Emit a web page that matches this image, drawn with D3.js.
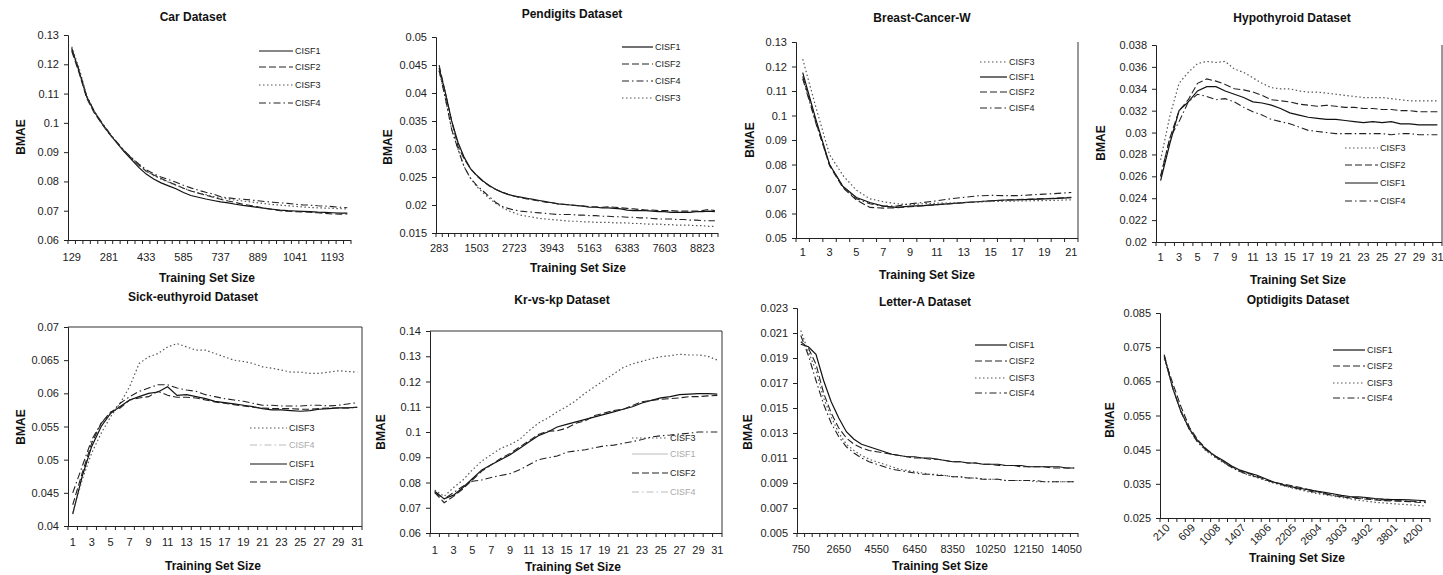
<!DOCTYPE html>
<html>
<head>
<meta charset="utf-8">
<script src="https://cdn.jsdelivr.net/npm/d3@7"></script>
<style>
  body { margin: 0; background: #fff; }
  svg { display: block; font-family: "Liberation Sans", Arial, sans-serif; }
  .axis path, .axis line { stroke: #222; }
  .axis text { fill: #222; font-size: 11px; }
  .title { font-weight: bold; font-size: 12px; fill: #111; }
  .legend text { font-size: 9px; fill: #222; }
</style>
</head>
<body>
<svg id="chart" width="1443" height="575"></svg>
<script>
// ---- data ----
const carLabels = [129, 281, 433, 585, 737, 889, 1041, 1193];
const carTicks = [0.06, 0.07, 0.08, 0.09, 0.1, 0.11, 0.12, 0.13];
const carCISF1 = [.1255,.1175,.109,.104,.1000,.0965,.0933,.0903,.0875,.0848,.0825,.0808,.0795,.0785,.0775,.0762,.0752,.0746,.0740,.0735,.0730,.0727,.0722,.0718,.0715,.0711,.0708,.0705,.0702,.0700,.0699,.0698,.0697,.0695,.0694,.0693,.0692,.0692];
const carCISF2 = [.1245,.117,.1085,.1035,.0998,.0964,.0935,.0905,.0880,.0856,.0835,.0822,.0810,.0798,.0788,.0777,.0767,.0760,.0753,.0746,.0739,.0733,.0728,.0722,.0718,.0713,.0708,.0704,.0700,.0698,.0697,.0696,.0695,.0693,.0691,.0689,.0688,.0689];
const carCISF3 = [.1260,.1185,.1095,.1040,.1002,.0966,.0934,.0905,.0880,.0856,.0835,.0820,.0808,.0797,.0787,.0777,.0768,.0761,.0755,.0749,.0744,.0740,.0736,.0733,.0730,.0727,.0724,.0721,.0719,.0717,.0715,.0713,.0711,.0710,.0709,.0708,.0707,.0706];
const carCISF4 = [.1250,.1180,.1090,.1040,.1003,.0968,.0936,.0906,.0882,.0860,.0840,.0826,.0815,.0806,.0797,.0787,.0778,.0770,.0763,.0757,.0748,.0744,.0741,.0739,.0737,.0734,.0731,.0729,.0727,.0725,.0722,.0720,.0719,.0717,.0716,.0714,.0712,.0710];

const penLabels = [283, 1503, 2723, 3943, 5163, 6383, 7603, 8823];
const penTicks = [0.015, 0.02, 0.025, 0.03, 0.035, 0.04, 0.045, 0.05];
const penCISF1 = [.0445,.0400,.0350,.0312,.0285,.0265,.0253,.0243,.0235,.0228,.0223,.0219,.0216,.0214,.0212,.0210,.0208,.0206,.0204,.0202,.0201,.0200,.0199,.0198,.0196,.0196,.0195,.0195,.0194,.0193,.0191,.0190,.0190,.0190,.0189,.0188,.0188,.0187,.0187,.0187,.0187,.0188,.0188,.0189,.0188];
const penCISF2 = [.0450,.0400,.0350,.0305,.0282,.0265,.0252,.0242,.0234,.0228,.0223,.0219,.0216,.0213,.0211,.0209,.0207,.0205,.0204,.0202,.0201,.0200,.0199,.0198,.0197,.0197,.0196,.0197,.0196,.0195,.0194,.0193,.0192,.0191,.0191,.0190,.0190,.0190,.0189,.0189,.0189,.0189,.0190,.0192,.0190];
const penCISF3 = [.0440,.0390,.0335,.0300,.0268,.0248,.0233,.0222,.0212,.0203,.0196,.0190,.0186,.0182,.0180,.0178,.0176,.0175,.0174,.0173,.0172,.0171,.0171,.0170,.0170,.0169,.0169,.0169,.0168,.0168,.0168,.0167,.0167,.0166,.0166,.0166,.0165,.0165,.0164,.0164,.0164,.0163,.0163,.0162,.0162];
const penCISF4 = [.0440,.0390,.0335,.0300,.0268,.0248,.0235,.0225,.0215,.0205,.0198,.0194,.0191,.0189,.0188,.0187,.0186,.0185,.0184,.0183,.0183,.0183,.0182,.0182,.0181,.0181,.0180,.0180,.0179,.0179,.0178,.0178,.0177,.0177,.0176,.0175,.0175,.0175,.0174,.0174,.0173,.0173,.0172,.0172,.0172];

const bcLabels = [1, 3, 5, 7, 9, 11, 13, 15, 17, 19, 21];
const bcTicks = [0.05, 0.06, 0.07, 0.08, 0.09, 0.1, 0.11, 0.12, 0.13];
const bcCISF1 = [.1175,.098,.080,.071,.0665,.0645,.063,.0625,.063,.0632,.0636,.064,.0644,.0648,.0652,.0655,.0656,.0658,.066,.0662,.0665];
const bcCISF2 = [.1160,.097,.0795,.0705,.0655,.0625,.0622,.0623,.0628,.0632,.0636,.064,.0644,.0648,.0651,.0654,.0657,.0659,.0661,.0663,.0666];
const bcCISF3 = [.1230,.1030,.0840,.0755,.0695,.0660,.0648,.0640,.0636,.0640,.0642,.0643,.0645,.0647,.0649,.0650,.0651,.0652,.0653,.0654,.0656];
const bcCISF4 = [.1150,.0965,.0800,.0710,.0660,.0640,.0630,.0630,.0640,.0645,.0652,.0660,.0666,.0672,.0674,.0673,.0673,.0676,.0679,.0682,.0686];

const hypLabels = [1, 3, 5, 7, 9, 11, 13, 15, 17, 19, 21, 23, 25, 27, 29, 31];
const hypTicks = [0.02, 0.022, 0.024, 0.026, 0.028, 0.03, 0.032, 0.034, 0.036, 0.038];
const hypCISF1 = [.0256,.029,.032,.0328,.0338,.0342,.0342,.0338,.0335,.0332,.0328,.0327,.0325,.0322,.0318,.0316,.0314,.0313,.0312,.0312,.0311,.031,.0309,.031,.0309,.031,.0308,.0308,.0307,.0307,.0307];
const hypCISF2 = [.026,.0295,.032,.033,.0345,.0349,.0347,.0344,.034,.0339,.0337,.0334,.033,.0329,.0328,.0326,.0325,.0324,.0325,.0324,.0323,.0323,.0322,.0322,.0321,.0321,.032,.032,.0319,.0319,.0319];
const hypCISF3 = [.0275,.0315,.0345,.0355,.0363,.0365,.0364,.0365,.0358,.0355,.035,.0345,.0341,.034,.034,.0338,.0337,.0337,.0336,.0335,.0334,.0333,.0332,.0332,.0332,.0331,.033,.0329,.0329,.0329,.0329];
const hypCISF4 = [.026,.0295,.031,.0328,.0335,.0333,.033,.0331,.0328,.0323,.0319,.0316,.0312,.031,.0308,.0305,.0302,.0301,.03,.0299,.0299,.0299,.0299,.0299,.0299,.0298,.0299,.0299,.0298,.0298,.0298];

const sickLabels = [1, 3, 5, 7, 9, 11, 13, 15, 17, 19, 21, 23, 25, 27, 29, 31];
const sickTicks = [0.04, 0.045, 0.05, 0.055, 0.06, 0.065, 0.07];
const sickCISF1 = [.0418,.0475,.052,.055,.057,.058,.059,.0595,.06,.0602,.061,.0597,.0598,.0595,.0592,.0588,.0586,.0584,.0582,.058,.0577,.0575,.0575,.0574,.0573,.0574,.0576,.0577,.0578,.0578,.0579];
const sickCISF2 = [.0432,.048,.0525,.0555,.0572,.0578,.059,.0593,.0595,.0603,.0597,.0594,.0594,.0593,.059,.0587,.0585,.0583,.0581,.0579,.0578,.0577,.0577,.0577,.0576,.0576,.0577,.0578,.0578,.0578,.0579];
const sickCISF3 = [.042,.047,.051,.054,.0565,.0585,.061,.0645,.0655,.066,.067,.0675,.067,.0665,.0665,.066,.0655,.065,.0648,.0645,.064,.0638,.0635,.0632,.0632,.063,.063,.0632,.0634,.0633,.0632];
const sickCISF4 = [.045,.049,.053,.0555,.057,.0585,.0595,.0603,.0608,.0613,.0613,.0608,.0605,.0603,.0598,.0595,.0592,.059,.0588,.0585,.0582,.0582,.0581,.0581,.0581,.0582,.0582,.0581,.0582,.0584,.0586];

const krLabels = [1, 3, 5, 7, 9, 11, 13, 15, 17, 19, 21, 23, 25, 27, 29, 31];
const krTicks = [0.06, 0.07, 0.08, 0.09, 0.1, 0.11, 0.12, 0.13, 0.14];
const krCISF1 = [.0765,.0735,.075,.078,.0815,.085,.087,.089,.091,.0935,.096,.0985,.1,.102,.103,.104,.105,.106,.107,.108,.109,.11,.1115,.1125,.1135,.114,.1148,.115,.1152,.1152,.115];
const krCISF2 = [.076,.072,.0745,.0775,.081,.0845,.087,.0895,.0915,.094,.0965,.099,.1003,.1005,.1015,.1035,.1045,.1065,.1075,.1085,.109,.1105,.112,.1125,.113,.1132,.1135,.114,.114,.1143,.1145];
const krCISF3 = [.077,.0745,.078,.081,.085,.0885,.091,.0935,.095,.097,.1005,.1035,.1055,.108,.11,.1125,.1155,.118,.1205,.123,.1255,.127,.128,.129,.1298,.1302,.1308,.1305,.1305,.13,.1285];
const krCISF4 = [.076,.0735,.076,.0785,.0805,.081,.082,.0828,.0835,.085,.087,.089,.0898,.0905,.092,.0925,.093,.0938,.0945,.0948,.0955,.0962,.097,.098,.0985,.0988,.0992,.0995,.1,.1,.1];

const letLabels = [750, 2650, 4550, 6450, 8350, 10250, 12150, 14050];
const letTicks = [0.005, 0.007, 0.009, 0.011, 0.013, 0.015, 0.017, 0.019, 0.021, 0.023];
const letCISF1 = [.0201,.0199,.0193,.0172,.0155,.0142,.0131,.0125,.0121,.0119,.0117,.0115,.0113,.0112,.0111,.0111,.0110,.0110,.0109,.0108,.0107,.0107,.0106,.0106,.0105,.0105,.0105,.0104,.0104,.0104,.0103,.0103,.0103,.0103,.0103,.0102,.0102];
const letCISF2 = [.0203,.0198,.0185,.0162,.0146,.0134,.0126,.0121,.0118,.0116,.0115,.0114,.0113,.0112,.0111,.0110,.0110,.0109,.0109,.0108,.0107,.0107,.0106,.0106,.0105,.0105,.0104,.0104,.0104,.0103,.0103,.0103,.0103,.0102,.0102,.0102,.0102];
const letCISF3 = [.0212,.0195,.0180,.0158,.0143,.0130,.0121,.0116,.0112,.0109,.0107,.0105,.0103,.0101,.0100,.0099,.0098,.0097,.0097,.0096,.0095,.0095,.0094,.0094,.0093,.0093,.0093,.0092,.0092,.0092,.0092,.0091,.0091,.0091,.0091,.0091,.0091];
const letCISF4 = [.0208,.0192,.0172,.0153,.0138,.0127,.0119,.0114,.0110,.0107,.0105,.0103,.0101,.0100,.0099,.0098,.0097,.0097,.0096,.0096,.0095,.0095,.0094,.0094,.0093,.0093,.0093,.0092,.0092,.0092,.0092,.0092,.0091,.0091,.0091,.0091,.0091];

const optLabels = [210, 609, 1008, 1407, 1806, 2205, 2604, 3003, 3402, 3801, 4200];
const optTicks = [0.025, 0.035, 0.045, 0.055, 0.065, 0.075, 0.085];
const optCISF1 = [.0725,.063,.056,.051,.0475,.0450,.0432,.0418,.0402,.0390,.0382,.0375,.0365,.0355,.0348,.0342,.0337,.0333,.0329,.0325,.0321,.0316,.0313,.0312,.0310,.0307,.0305,.0304,.0304,.0303,.0302,.0300];
const optCISF2 = [.0720,.0645,.0575,.0515,.0478,.0452,.0432,.0415,.0400,.0388,.0380,.0372,.0362,.0354,.0350,.0345,.0340,.0334,.0328,.0322,.0316,.0312,.0309,.0307,.0305,.0303,.0301,.0300,.0299,.0298,.0296,.0295];
const optCISF3 = [.0715,.0635,.0565,.0510,.0472,.0445,.0428,.0412,.0398,.0385,.0376,.0368,.0360,.0352,.0345,.0339,.0333,.0327,.0322,.0318,.0314,.0310,.0306,.0302,.0299,.0296,.0294,.0292,.0290,.0289,.0287,.0285];
const optCISF4 = [.0728,.0632,.0560,.0508,.0470,.0448,.0430,.0414,.0398,.0386,.0376,.0370,.0362,.0354,.0347,.0340,.0335,.0330,.0325,.0321,.0317,.0313,.0311,.0309,.0307,.0305,.0303,.0301,.0300,.0299,.0298,.0297];

// ---- line styles ----
const styles = {
  CISF1: { dash: null, color: "#111", width: 1.2 },
  CISF2: { dash: "7,3", color: "#222", width: 1.1 },
  CISF3: { dash: "1.5,2.5", color: "#555", width: 1.2 },
  CISF4: { dash: "7,3,1.5,3", color: "#222", width: 1.1 }
};

// ---- panel layout ----
const panels = [
  { title: "Car Dataset", labels: carLabels, every: 5, ticks: carTicks,
    series: { CISF1: carCISF1, CISF2: carCISF2, CISF3: carCISF3, CISF4: carCISF4 },
    left: 68, right: 351, top: 35, bottom: 240, tx: 193, ty: 17, ax: 207, ay: 278, bx: 21, by: 137, pad: 13,
    legend: { x1: 259, x2: 293, ys: [51, 67, 85, 103], order: ["CISF1", "CISF2", "CISF3", "CISF4"] }, frame: [] },
  { title: "Pendigits Dataset", labels: penLabels, every: 6, ticks: penTicks,
    series: { CISF1: penCISF1, CISF2: penCISF2, CISF3: penCISF3, CISF4: penCISF4 },
    left: 436, right: 718, top: 37, bottom: 233, tx: 572, ty: 14, ax: 578, ay: 268, bx: 388, by: 147, pad: 11,
    legend: { x1: 622, x2: 653, ys: [47, 64, 81, 98], order: ["CISF1", "CISF2", "CISF4", "CISF3"] }, frame: [] },
  { title: "Breast-Cancer-W", labels: bcLabels, every: 2, ticks: bcTicks,
    series: { CISF1: bcCISF1, CISF2: bcCISF2, CISF3: bcCISF3, CISF4: bcCISF4 },
    left: 796, right: 1078, top: 42, bottom: 238, tx: 922, ty: 18, ax: 927, ay: 275, bx: 750, by: 140, pad: 10,
    legend: { x1: 980, x2: 1007, ys: [62, 77, 92, 108], order: ["CISF3", "CISF1", "CISF2", "CISF4"] }, frame: ["right"] },
  { title: "Hypothyroid Dataset", labels: hypLabels, every: 2, ticks: hypTicks,
    series: { CISF1: hypCISF1, CISF2: hypCISF2, CISF3: hypCISF3, CISF4: hypCISF4 },
    left: 1156, right: 1442, top: 45, bottom: 242, tx: 1292, ty: 18, ax: 1298, ay: 280, bx: 1101, by: 143, pad: 11,
    legend: { x1: 1345, x2: 1378, ys: [148, 165, 183, 201], order: ["CISF3", "CISF2", "CISF1", "CISF4"] }, frame: ["right"] },
  { title: "Sick-euthyroid Dataset", labels: sickLabels, every: 2, ticks: sickTicks,
    series: { CISF1: sickCISF1, CISF2: sickCISF2, CISF3: sickCISF3, CISF4: sickCISF4 },
    left: 68, right: 362, top: 327, bottom: 526, tx: 193, ty: 297, ax: 213, ay: 566, bx: 21, by: 427, pad: 12,
    legend: { x1: 250, x2: 287, ys: [428, 445, 464, 482], order: ["CISF3", "CISF4", "CISF1", "CISF2"], faded: ["CISF4"] },
    frame: ["top", "right"] },
  { title: "Kr-vs-kp Dataset", labels: krLabels, every: 2, ticks: krTicks,
    series: { CISF1: krCISF1, CISF2: krCISF2, CISF3: krCISF3, CISF4: krCISF4 },
    left: 430, right: 722, top: 331, bottom: 533, tx: 562, ty: 300, ax: 573, ay: 567, bx: 381, by: 432, pad: 13,
    legend: { x1: 632, x2: 668, ys: [438, 454, 473, 492], order: ["CISF3", "CISF1", "CISF2", "CISF4"], faded: ["CISF1", "CISF4"] },
    frame: ["top", "right"] },
  { title: "Letter-A Dataset", labels: letLabels, every: 5, ticks: letTicks,
    series: { CISF1: letCISF1, CISF2: letCISF2, CISF3: letCISF3, CISF4: letCISF4 },
    left: 797, right: 1078, top: 308, bottom: 533, tx: 925, ty: 302, ax: 940, ay: 566, bx: 748, by: 432, pad: 12,
    legend: { x1: 975, x2: 1007, ys: [345, 361, 378, 393], order: ["CISF1", "CISF2", "CISF3", "CISF4"] }, frame: [] },
  { title: "Optidigits Dataset", labels: optLabels, every: 3, ticks: optTicks, rotate: true,
    series: { CISF1: optCISF1, CISF2: optCISF2, CISF3: optCISF3, CISF4: optCISF4 },
    left: 1160, right: 1430, top: 313, bottom: 518, tx: 1298, ty: 300, ax: 1297, ay: 558, bx: 1110, by: 420, pad: 6,
    legend: { x1: 1333, x2: 1365, ys: [350, 366, 383, 398], order: ["CISF1", "CISF2", "CISF3", "CISF4"] }, frame: [] }
];

const svg = d3.select("#chart");

function drawPanel(p) {
  const g = svg.append("g");
  const n = p.series.CISF1.length;
  const x = d3.scaleBand().domain(d3.range(n)).range([p.left, p.right]);
  const y = d3.scaleLinear().domain(d3.extent(p.ticks)).range([p.bottom, p.top]);
  const cx = i => x(i) + x.bandwidth() / 2;

  // frame lines of the plot area
  p.frame.forEach(side => {
    const l = side === "top" ? [p.left, p.top, p.right, p.top] : [p.right, p.top, p.right, p.bottom];
    g.append("line").attr("x1", l[0]).attr("y1", l[1]).attr("x2", l[2]).attr("y2", l[3])
      .attr("stroke", "#333").attr("stroke-width", 1);
  });

  // y axis
  g.append("g").attr("class", "axis")
    .attr("transform", `translate(${p.left},0)`)
    .call(d3.axisLeft(y).tickValues(p.ticks).tickSize(4).tickPadding(5).tickFormat(d => String(+d.toFixed(4))));

  // x axis: labels at category centres
  const labelIdx = p.labels.map((_, j) => j * p.every);
  const xa = g.append("g").attr("class", "axis")
    .attr("transform", `translate(0,${p.bottom})`)
    .call(d3.axisBottom(x).tickValues(labelIdx).tickSize(0).tickPadding(p.pad)
      .tickFormat(i => p.labels[i / p.every]));
  xa.select(".domain").attr("d", `M${p.left},0.5H${p.right}`);
  if (p.rotate) {
    xa.selectAll("text")
      .attr("x", -3).attr("y", 8).attr("dy", "0.35em")
      .attr("transform", "rotate(-45)")
      .style("text-anchor", "end");
  }
  // tick marks between categories
  g.append("g").selectAll("line")
    .data(d3.range(n + 1))
    .join("line")
    .attr("x1", i => i < n ? x(i) : p.right)
    .attr("x2", i => i < n ? x(i) : p.right)
    .attr("y1", p.bottom)
    .attr("y2", p.bottom + 4)
    .attr("stroke", "#222");

  // series
  const line = d3.line().x((d, i) => cx(i)).y(d => y(d));
  Object.keys(p.series).forEach(k => {
    const s = styles[k];
    g.append("path")
      .datum(p.series[k])
      .attr("d", line)
      .attr("fill", "none")
      .attr("stroke", s.color)
      .attr("stroke-width", s.width)
      .attr("stroke-dasharray", s.dash);
  });

  // titles
  g.append("text").attr("class", "title")
    .attr("x", p.tx).attr("y", p.ty).attr("dy", "0.35em")
    .attr("text-anchor", "middle").text(p.title);
  g.append("text").attr("class", "title")
    .attr("x", p.ax).attr("y", p.ay).attr("dy", "0.35em")
    .attr("text-anchor", "middle").text("Training Set Size");
  g.append("text").attr("class", "title")
    .attr("transform", `translate(${p.bx},${p.by}) rotate(-90)`)
    .attr("dy", "0.35em").attr("text-anchor", "middle").text("BMAE");

  // legend
  const faded = p.legend.faded || [];
  const lg = g.append("g").attr("class", "legend")
    .selectAll("g").data(p.legend.order).join("g")
    .attr("transform", (d, i) => `translate(0,${p.legend.ys[i]})`);
  lg.append("line")
    .attr("x1", p.legend.x1).attr("x2", p.legend.x2)
    .attr("stroke", d => faded.includes(d) ? "#bbb" : styles[d].color)
    .attr("stroke-width", d => styles[d].width)
    .attr("stroke-dasharray", d => styles[d].dash);
  lg.append("text")
    .attr("x", p.legend.x2 + 2).attr("dy", "0.35em")
    .style("fill", d => faded.includes(d) ? "#aaa" : "#222")
    .text(d => d);
}

panels.forEach(drawPanel);
</script>
</body>
</html>
